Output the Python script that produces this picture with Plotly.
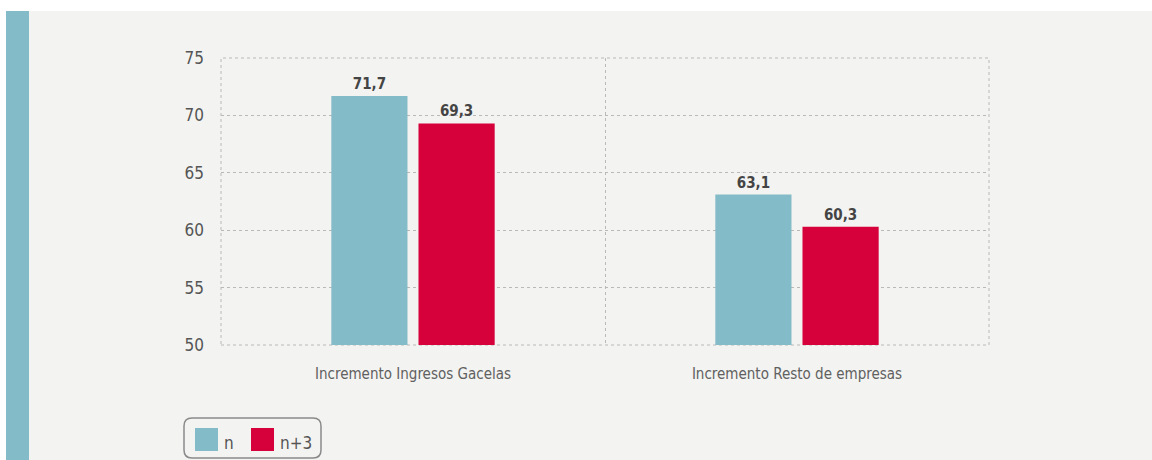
import plotly.graph_objects as go

# Data
categories = ["Incremento Ingresos Gacelas", "Incremento Resto de empresas"]
series_names = ["n", "n+3"]
values_n = [71.7, 63.1]
values_n3 = [69.3, 60.3]
y_ticks = [50, 55, 60, 65, 70, 75]

# Styling
TEAL = "#84bbc8"
RED = "#d6003a"
BG = "#f3f3f1"
GRID = "#b9b9b9"
TEXT = "#555555"
FONT = "DejaVu Sans Condensed, Liberation Sans Narrow, Roboto, sans-serif"

W, H = 1152, 460
ML, MR, MT, MB = 221, 163, 58, 115
PW, PH = W - ML - MR, H - MT - MB


def px(x):
    return (x - ML) / PW


def py(y):
    return (H - MB - y) / PH


fig = go.Figure()
for name, vals, col in [(series_names[0], values_n, TEAL), (series_names[1], values_n3, RED)]:
    fig.add_trace(go.Bar(
        x=categories, y=vals, name=name, marker=dict(color=col, line=dict(width=0)),
        text=vals, texttemplate="<b>%{y:.1f}</b>", textposition="outside",
        textfont=dict(family=FONT, size=15, color="#444444"),
        cliponaxis=False, showlegend=False,
    ))

shapes = [
    # white top band and left margin, then the teal accent stripe
    dict(type="rect", xref="paper", yref="paper", x0=px(0), x1=px(W), y0=py(0), y1=py(11),
         fillcolor="white", line_width=0, layer="below"),
    dict(type="rect", xref="paper", yref="paper", x0=px(0), x1=px(6), y0=py(0), y1=py(H),
         fillcolor="white", line_width=0, layer="below"),
    dict(type="rect", xref="paper", yref="paper", x0=px(6), x1=px(29), y0=py(11), y1=py(H),
         fillcolor=TEAL, line_width=0, layer="below"),
    # dotted frame around the plotting area
    dict(type="rect", xref="paper", yref="paper", x0=0, x1=1, y0=0, y1=1,
         line=dict(color=GRID, width=1, dash="dot"), fillcolor="rgba(0,0,0,0)", layer="below"),
]

# custom legend box with rounded corners
bx0, bx1, by0, by1, r = 184, 321, 418, 458, 8
path = (
    f"M {px(bx0 + r)},{py(by0)} L {px(bx1 - r)},{py(by0)} "
    f"Q {px(bx1)},{py(by0)} {px(bx1)},{py(by0 + r)} L {px(bx1)},{py(by1 - r)} "
    f"Q {px(bx1)},{py(by1)} {px(bx1 - r)},{py(by1)} L {px(bx0 + r)},{py(by1)} "
    f"Q {px(bx0)},{py(by1)} {px(bx0)},{py(by1 - r)} L {px(bx0)},{py(by0 + r)} "
    f"Q {px(bx0)},{py(by0)} {px(bx0 + r)},{py(by0)} Z"
)
shapes.append(dict(type="path", xref="paper", yref="paper", path=path,
                   line=dict(color="#8a8a8a", width=1.5), fillcolor="rgba(0,0,0,0)"))

annotations = []
for (sx, tx), name, col in zip([(195, 222), (251, 278)], series_names, [TEAL, RED]):
    shapes.append(dict(type="rect", xref="paper", yref="paper", x0=px(sx), x1=px(sx + 23),
                       y0=py(451), y1=py(428), fillcolor=col, line_width=0))
    annotations.append(dict(xref="paper", yref="paper", x=px(tx), y=py(455), text=name,
                            showarrow=False, xanchor="left", yanchor="bottom",
                            font=dict(family=FONT, size=17, color=TEXT)))

fig.update_layout(
    width=W, height=H,
    margin=dict(l=ML, r=MR, t=MT, b=MB, pad=0),
    paper_bgcolor=BG, plot_bgcolor=BG,
    barmode="group", bargap=0.546, bargroupgap=0.126,
    separators=",.",
    font=dict(family=FONT, color=TEXT),
    shapes=shapes, annotations=annotations,
    showlegend=False,
)
fig.update_xaxes(
    tickson="boundaries", showgrid=True, gridcolor=GRID, griddash="dot", gridwidth=1,
    ticks="", showline=False, zeroline=False,
    tickfont=dict(family=FONT, size=15, color="#606060"), ticklabelstandoff=18,
)
fig.update_yaxes(
    range=[50, 75], tickvals=y_ticks, showgrid=True, gridcolor=GRID, griddash="dot",
    gridwidth=1, ticks="", showline=False, zeroline=False,
    tickfont=dict(family=FONT, size=17, color=TEXT), ticklabelstandoff=16,
)

fig.write_html("out.html")
